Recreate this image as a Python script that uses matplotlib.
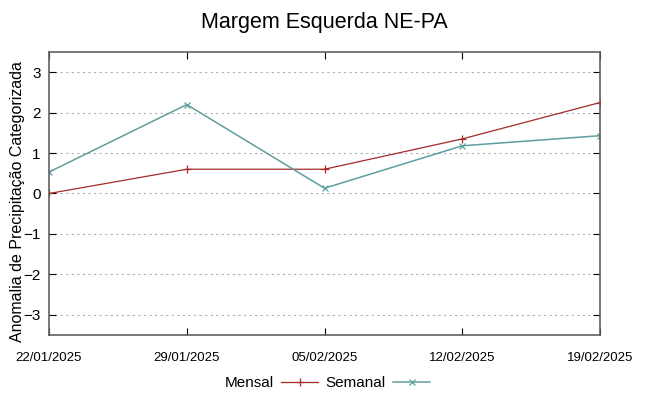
import numpy as np
import matplotlib
matplotlib.use("Agg")
import matplotlib.pyplot as plt

datas = ["22/01/2025", "29/01/2025", "05/02/2025", "12/02/2025", "19/02/2025"]
mensal = [0.0, 0.6, 0.6, 1.35, 2.25]
semanal = [0.53, 2.2, 0.13, 1.18, 1.43]

plt.rcParams['font.family'] = ['Liberation Sans', 'DejaVu Sans']

fig = plt.figure(figsize=(6.48, 3.96), dpi=100)
ax = fig.add_axes([49/648, 1-335/396, (600-49)/648, (335-52)/396])

x = np.arange(len(datas))
ax.plot(x, mensal, color='#a52a2a', lw=0.9, marker='+', ms=6, mew=0.9, label='Mensal')
ax.plot(x, semanal, color='#5f9ea0', lw=1.1, marker='x', ms=5, mew=0.9, label='Semanal')

ax.set_xlim(0, len(datas)-1)
ax.set_ylim(-3.5, 3.5)
ax.set_yticks([-3, -2, -1, 0, 1, 2, 3])
ax.set_xticks(x)
ax.set_xticklabels(datas, family=['Liberation Sans Narrow', 'Liberation Sans'], fontsize=9.5)
ax.tick_params(axis='y', labelsize=11, direction='in', right=True, length=5, pad=6)
ax.tick_params(axis='x', direction='in', top=True, length=5, pad=12)
ax.grid(axis='y', color='#b0b0b0', ls=(0, (2, 3)), lw=0.8)
for s in ax.spines.values():
    s.set_color('#606060')
    s.set_linewidth(1.2)

ax.set_ylabel('Anomalia de Precipitação Categorizada', fontsize=11.5)
ax.yaxis.set_label_coords(-24/551, 0.47)
fig.suptitle('Margem Esquerda NE-PA', fontsize=15.5, y=0.97)

fig.legend(loc='lower center', bbox_to_anchor=(0.505, -0.02), ncol=2, frameon=False,
           markerfirst=False, fontsize=11, handlelength=2.4, columnspacing=0.5, handletextpad=0.5)

fig.savefig('out.png', dpi=100)
plt.close(fig)
